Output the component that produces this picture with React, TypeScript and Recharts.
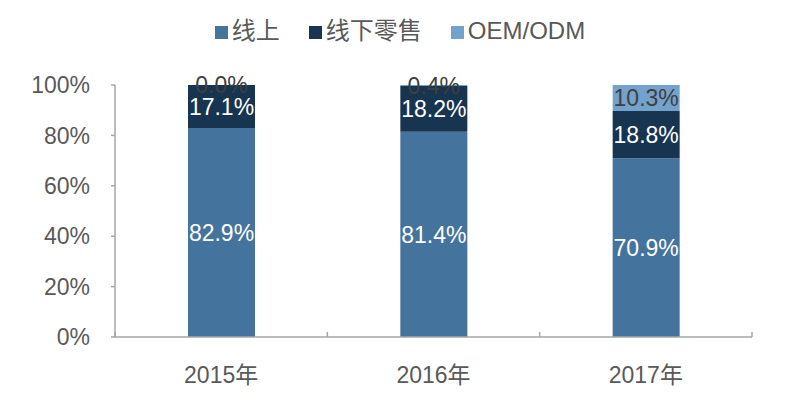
import React from "react";
import {
  BarChart,
  Bar,
  XAxis,
  YAxis,
  Legend,
  LabelList
} from "recharts";

const years = ["2015年", "2016年", "2017年"];
const online = [82.9, 81.4, 70.9];
const offline = [17.1, 18.2, 18.8];
const oem = [0.0, 0.4, 10.3];
const yTicks = [0, 20, 40, 60, 80, 100];
const seriesOrder = ["online", "offline", "oem"];

const data = years.map((year, i) => ({
  year,
  online: online[i],
  offline: offline[i],
  oem: oem[i]
}));

const font = "'Liberation Sans', Arial, 'Noto Sans CJK SC', sans-serif";
const axisColor = "#a6a6a6";
const textColor = "#595959";
const darkLabel = "#404040";
const pct = (v: number) => `${Number(v).toFixed(1)}%`;

// category label plus the small inward ticks on the category boundaries
const YearTick = (props: any) => {
  const { x, y, payload, index, visibleTicksCount } = props;
  const half = payload.offset || 0;
  const last = index === visibleTicksCount - 1;
  return (
    <g>
      <line x1={x - half} x2={x - half} y1={y - 5} y2={y} stroke={axisColor} strokeWidth={1.5} />
      {last && <line x1={x + half} x2={x + half} y1={y - 5} y2={y} stroke={axisColor} strokeWidth={1.5} />}
      <text x={x} y={y + 46} textAnchor="middle" fill={textColor} fontSize={23} fontFamily={font}>
        {payload.value}
      </text>
    </g>
  );
};

// recharts drops zero-height segments, so a 0% OEM label is drawn on top of the offline segment
const ZeroOemLabel = (props: any) => {
  const { x, y, width, index } = props;
  if (oem[index] !== 0) return null;
  return (
    <text x={x + width / 2} y={y} textAnchor="middle" dominantBaseline="central" fill={darkLabel} fontSize={23} fontFamily={font}>
      {pct(oem[index])}
    </text>
  );
};

export default function App() {
  return (
    <div style={{ position: "absolute", left: 0, top: 0, fontFamily: font }}>
      <BarChart
        width={790}
        height={411}
        data={data}
        margin={{ top: 85, right: 38, left: 0, bottom: 0 }}
      >
        <XAxis
          dataKey="year"
          height={74}
          tickLine={false}
          tickSize={0}
          tickMargin={0}
          stroke={axisColor}
          strokeWidth={1.5}
          tick={<YearTick />}
        />
        <YAxis
          width={115}
          domain={[0, 100]}
          ticks={yTicks}
          tickFormatter={(v) => `${v}%`}
          tickSize={4}
          tickMargin={21}
          stroke={axisColor}
          strokeWidth={1.5}
          tick={{ fill: textColor, fontSize: 23, fontFamily: font }}
        />
        <Legend
          layout="horizontal"
          verticalAlign="middle"
          align="center"
          iconType="square"
          iconSize={13}
          itemSorter={(item: any) => seriesOrder.indexOf(item.dataKey)}
          wrapperStyle={{ top: 11, left: 10, width: 790, fontSize: 24, fontFamily: font }}
          formatter={(value, entry: any) => (
            <span style={{ color: textColor, marginRight: entry.dataKey === "oem" ? 0 : 19 }}>{value}</span>
          )}
        />
        <Bar dataKey="online" name="线上" stackId="a" fill="#44739e" barSize={67} isAnimationActive={false}>
          <LabelList dataKey="online" position="center" formatter={pct} fill="#ffffff" fontSize={23} fontFamily={font} />
        </Bar>
        <Bar dataKey="offline" name="线下零售" stackId="a" fill="#173451" barSize={67} isAnimationActive={false}>
          <LabelList dataKey="offline" position="center" formatter={pct} fill="#ffffff" fontSize={23} fontFamily={font} />
          <LabelList dataKey="oem" content={<ZeroOemLabel />} />
        </Bar>
        <Bar dataKey="oem" name="OEM/ODM" stackId="a" fill="#73a2cc" barSize={67} isAnimationActive={false}>
          <LabelList dataKey="oem" position="center" formatter={pct} fill={darkLabel} fontSize={23} fontFamily={font} />
        </Bar>
      </BarChart>
    </div>
  );
}
